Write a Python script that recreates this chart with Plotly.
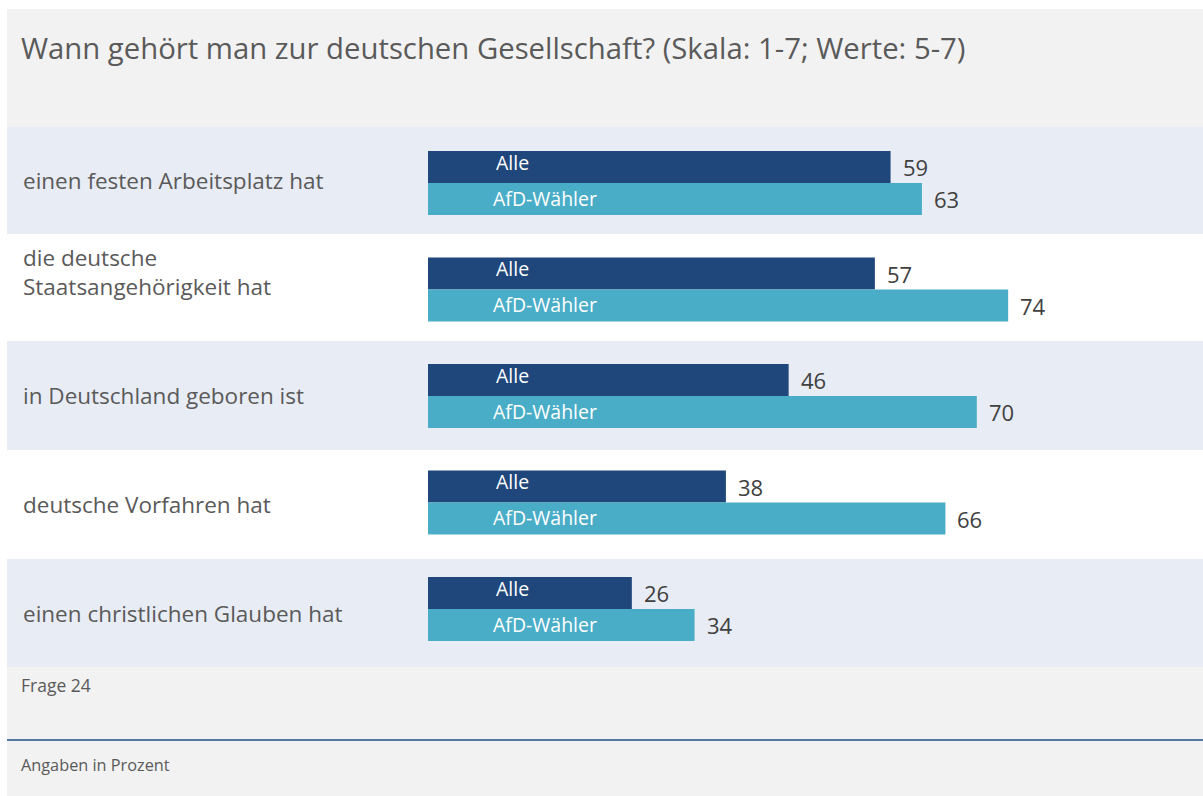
import plotly.graph_objects as go

# ---- data ----
categories = [
    "einen festen Arbeitsplatz hat",
    "die deutsche<br>Staatsangehörigkeit hat",
    "in Deutschland geboren ist",
    "deutsche Vorfahren hat",
    "einen christlichen Glauben hat",
]
alle = [59, 57, 46, 38, 26]
afd = [63, 74, 70, 66, 34]
series_names = ["Alle", "AfD-Wähler"]
title_text = "Wann gehört man zur deutschen Gesellschaft? (Skala: 1-7; Werte: 5-7)"
note_text = "Frage 24"
footer_text = "Angaben in Prozent"

# ---- layout geometry (screen pixels) ----
W, H = 1203, 796
PL, PR, PT, PB = 428, 1203, 127, 667  # plot area
PX_PER_UNIT = 7.84
ROW_PX = 106.5          # spacing of bar groups
FIRST_ROW_PX = 183      # centre of first bar group
BARGAP = 1 - 64 / ROW_PX
BAND_EDGES = [127, 234, 341, 450, 559, 667]
FONT = "Open Sans"
C_ALLE = "#1f477b"
C_AFD = "#4aadc7"
C_BAND = "#e8ecf4"
C_PANEL = "#f2f2f2"
C_TEXT = "#5a5a5a"
C_VAL = "#404040"


def px(x):
    return (x - PL) / (PR - PL)


def py(y):
    return (PB - y) / (PB - PT)


ypos = list(range(len(categories)))
y_top = -(FIRST_ROW_PX - PT) / ROW_PX
y_bot = y_top + (PB - PT) / ROW_PX

fig = go.Figure()
fig.add_trace(go.Bar(y=ypos, x=alle, orientation="h", name=series_names[0],
                     marker=dict(color=C_ALLE, line=dict(width=0)), hoverinfo="x"))
fig.add_trace(go.Bar(y=ypos, x=afd, orientation="h", name=series_names[1],
                     marker=dict(color=C_AFD, line=dict(width=0)), hoverinfo="x"))

shapes = []
# grey panel
shapes.append(dict(type="rect", xref="paper", yref="paper", x0=px(7), x1=px(1203),
                   y0=py(9), y1=py(796), fillcolor=C_PANEL, line=dict(width=0), layer="below"))
# row bands
for i in ypos:
    shapes.append(dict(type="rect", xref="paper", yref="paper", x0=px(7), x1=px(1203),
                       y0=py(BAND_EDGES[i + 1]), y1=py(BAND_EDGES[i]),
                       fillcolor=C_BAND if i % 2 == 0 else "#ffffff",
                       line=dict(width=0), layer="below"))
# footer rule
shapes.append(dict(type="line", xref="paper", yref="paper", x0=px(7), x1=px(1203),
                   y0=py(740), y1=py(740), line=dict(color="#5878a4", width=2)))

annotations = []
annotations.append(dict(text=title_text, xref="paper", yref="paper", x=px(19), y=py(48),
                        xanchor="left", yanchor="middle", showarrow=False,
                        font=dict(family=FONT, size=29.3, color=C_TEXT)))
annotations.append(dict(text=note_text, xref="paper", yref="paper", x=px(19), y=py(685),
                        xanchor="left", yanchor="middle", showarrow=False,
                        font=dict(family=FONT, size=17.5, color=C_TEXT)))
annotations.append(dict(text=footer_text, xref="paper", yref="paper", x=px(19), y=py(765),
                        xanchor="left", yanchor="middle", showarrow=False,
                        font=dict(family=FONT, size=16.3, color=C_TEXT)))

half = 0.5 * (1 - BARGAP) / 2  # offset of each bar centre from group centre
for i, cat in enumerate(categories):
    band_mid = (BAND_EDGES[i] + BAND_EDGES[i + 1]) / 2
    annotations.append(dict(text=cat, xref="paper", yref="paper", x=px(21), y=py(band_mid),
                            xanchor="left", yanchor="middle", align="left", showarrow=False,
                            yshift=16 if "<br>" in cat else 0,
                            font=dict(family=FONT, size=22.5, color=C_TEXT)))
    for val, off, name, shift, ys in ((alle[i], -half, series_names[0], 66, 5),
                                      (afd[i], half, series_names[1], 63, 1)):
        annotations.append(dict(text=str(val), x=val, y=i + off, xref="x", yref="y",
                                xanchor="left", yanchor="middle", xshift=10, showarrow=False,
                                font=dict(family=FONT, size=22, color=C_VAL)))
        annotations.append(dict(text=name, x=0, y=i + off, xref="x", yref="y",
                                xanchor="left", yanchor="middle", xshift=shift, yshift=ys,
                                showarrow=False,
                                font=dict(family=FONT, size=19.5, color="#ffffff")))

fig.update_layout(
    width=W, height=H,
    margin=dict(l=PL, r=W - PR, t=PT, b=H - PB, pad=0),
    paper_bgcolor="#ffffff", plot_bgcolor="rgba(0,0,0,0)",
    barmode="group", bargap=BARGAP, bargroupgap=0,
    showlegend=False,
    shapes=shapes, annotations=annotations,
    xaxis=dict(range=[0, (PR - PL) / PX_PER_UNIT], visible=False, fixedrange=True),
    yaxis=dict(range=[y_bot, y_top], visible=False, fixedrange=True),
)

fig.write_html("out.html", config={"displayModeBar": False},
               post_script="document.body.style.margin='0';document.body.style.overflow='hidden';")
